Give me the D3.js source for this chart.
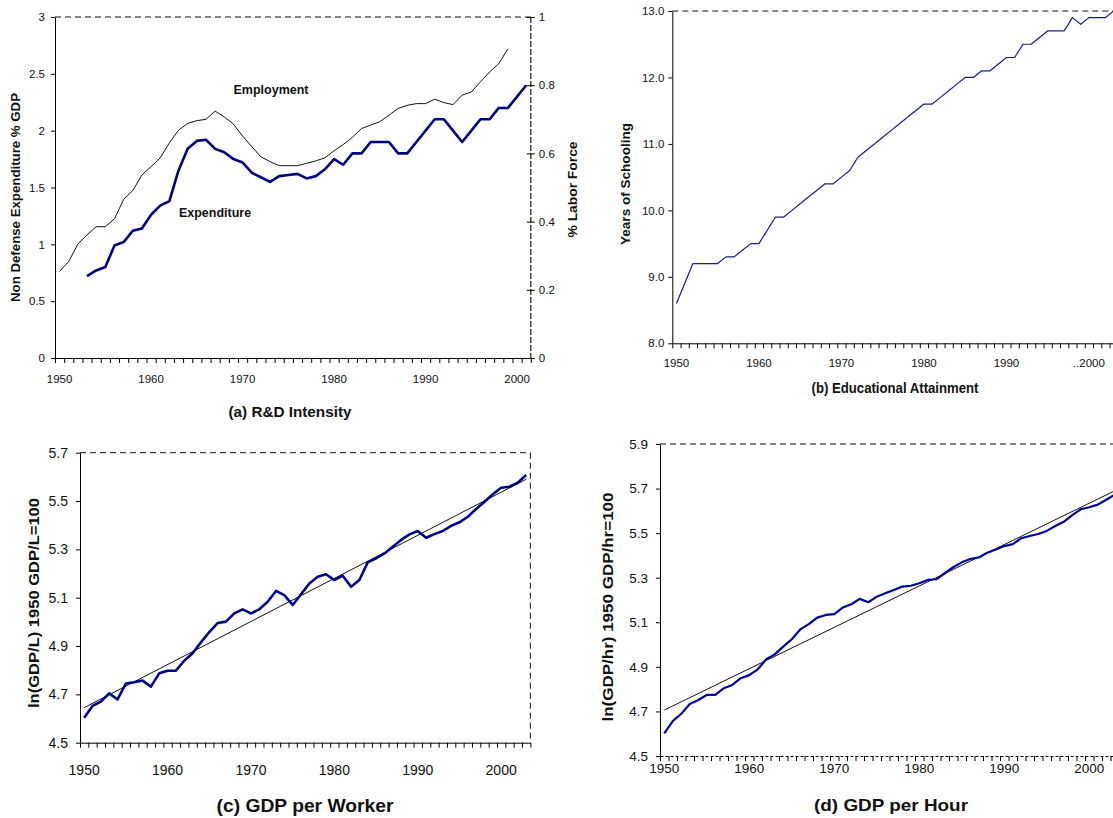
<!DOCTYPE html>
<html>
<head>
<meta charset="utf-8">
<script src="https://cdn.jsdelivr.net/npm/d3@7"></script>
<style>
  body { margin: 0; background: #fff; }
  svg { display: block; }
  text { font-family: "Liberation Sans", Arial, sans-serif; fill: #111; }
</style>
</head>
<body>
<svg id="fig" width="1113" height="818"></svg>
<script>
// ---- data ----
var decades = [1950, 1960, 1970, 1980, 1990, 2000];
var decadeLabels = ["1950", "1960", "1970", "1980", "1990", "2000"];
var decadeLabelsB = ["1950", "1960", "1970", "1980", "1990", "..2000"];

// (a) R&D intensity
var employmentStart = 1950;   // % labor force, right axis
var employment = [0.254, 0.283, 0.334, 0.361, 0.385, 0.385, 0.408, 0.465, 0.491, 0.537,
  0.561, 0.587, 0.631, 0.668, 0.688, 0.696, 0.700, 0.724, 0.707, 0.686,
  0.651, 0.620, 0.590, 0.576, 0.564, 0.564, 0.564, 0.571, 0.578, 0.587,
  0.608, 0.626, 0.647, 0.673, 0.683, 0.693, 0.712, 0.732, 0.741, 0.746,
  0.746, 0.759, 0.749, 0.743, 0.771, 0.780, 0.810, 0.839, 0.863, 0.907];
var expenditureStart = 1953;  // % GDP, left axis
var expenditure = [0.72, 0.77, 0.80, 0.99, 1.02, 1.12, 1.14,
  1.26, 1.34, 1.38, 1.65, 1.84, 1.91, 1.92, 1.84, 1.81, 1.75,
  1.72, 1.63, 1.59, 1.55, 1.60, 1.61, 1.62, 1.58, 1.60, 1.66,
  1.75, 1.70, 1.80, 1.80, 1.90, 1.90, 1.90, 1.80, 1.80, 1.90,
  2.00, 2.10, 2.10, 2.00, 1.90, 2.00, 2.10, 2.10, 2.20, 2.20,
  2.30, 2.40];
var ticksAL = [0, 0.5, 1, 1.5, 2, 2.5, 3];
var ticksAR = [0, 0.2, 0.4, 0.6, 0.8, 1];

// (b) educational attainment, 1950-2003
var schooling = [8.6, 8.9, 9.2, 9.2, 9.2, 9.2, 9.3, 9.3, 9.4, 9.5,
  9.5, 9.7, 9.9, 9.9, 10.0, 10.1, 10.2, 10.3, 10.4, 10.4,
  10.5, 10.6, 10.8, 10.9, 11.0, 11.1, 11.2, 11.3, 11.4, 11.5,
  11.6, 11.6, 11.7, 11.8, 11.9, 12.0, 12.0, 12.1, 12.1, 12.2,
  12.3, 12.3, 12.5, 12.5, 12.6, 12.7, 12.7, 12.7, 12.9, 12.8,
  12.9, 12.9, 12.9, 13.0];
var ticksB = [8, 9, 10, 11, 12, 13];

// (c) GDP per worker, 1950-2003
var gdpWorker = [4.603, 4.652, 4.670, 4.704, 4.679, 4.745, 4.750, 4.757, 4.732, 4.787,
  4.798, 4.798, 4.839, 4.870, 4.915, 4.958, 4.995, 5.001, 5.035, 5.052,
  5.035, 5.052, 5.083, 5.128, 5.111, 5.070, 5.114, 5.159, 5.187, 5.197,
  5.173, 5.191, 5.145, 5.173, 5.246, 5.263, 5.283, 5.311, 5.339, 5.362,
  5.376, 5.348, 5.363, 5.376, 5.397, 5.412, 5.435, 5.467, 5.497, 5.528,
  5.555, 5.559, 5.576, 5.608];
var trendWorker = [[1950, 4.645], [2003, 5.59]];
var ticksC = [4.5, 4.7, 4.9, 5.1, 5.3, 5.5, 5.7];

// (d) GDP per hour, 1950-2003
var gdpHour = [4.602, 4.657, 4.689, 4.733, 4.751, 4.774, 4.774, 4.804, 4.819, 4.849,
  4.863, 4.889, 4.934, 4.956, 4.991, 5.024, 5.068, 5.092, 5.121, 5.133,
  5.137, 5.166, 5.181, 5.205, 5.190, 5.215, 5.230, 5.245, 5.260, 5.264,
  5.275, 5.290, 5.293, 5.320, 5.347, 5.369, 5.384, 5.391, 5.412, 5.427,
  5.442, 5.451, 5.477, 5.487, 5.496, 5.510, 5.532, 5.551, 5.581, 5.607,
  5.616, 5.628, 5.650, 5.672];
var trendHour = [[1950, 4.706], [2003, 5.69]];
var ticksD = [4.5, 4.7, 4.9, 5.1, 5.3, 5.5, 5.7, 5.9];

var svg = d3.select("#fig");

function series(start, vals) {
  return vals.map(function (v, i) { return { year: start + i, v: v }; });
}

// category axis like Excel: ticks between years, labels on year centres
function catScale(left, cw, n) {
  return d3.scaleLinear().domain([1949.5, 1949.5 + n]).range([left, left + n * cw]);
}

function bottomAxis(x, y0, n, labels, fs, base, dashed) {
  var edges = d3.range(n + 1).map(function (i) { return 1949.5 + i; });
  var g = svg.append("g")
    .attr("transform", "translate(0," + y0 + ")")
    .call(d3.axisBottom(x).tickValues(edges).tickSize(5).tickSizeOuter(0).tickFormat(""));
  if (dashed) g.select(".domain").attr("stroke-dasharray", "3,2");
  svg.append("g").selectAll("text")
    .data(decades)
    .enter().append("text")
    .attr("x", function (d) { return x(d); })
    .attr("y", base)
    .attr("text-anchor", "middle")
    .style("font-size", fs + "px")
    .text(function (d, i) { return labels[i]; });
}

function leftAxis(y, x0, ticks, fmt, fs, pad) {
  var g = svg.append("g")
    .attr("transform", "translate(" + x0 + ",0)")
    .call(d3.axisLeft(y).tickValues(ticks).tickSize(4).tickSizeOuter(0).tickPadding(pad).tickFormat(fmt));
  g.selectAll("text").attr("font-family", null).style("font-size", fs + "px").attr("fill", "#111");
  return g;
}

function topDash(x1, x2, yy) {
  svg.append("line")
    .attr("x1", x1).attr("x2", x2).attr("y1", yy).attr("y2", yy)
    .attr("stroke", "#111").attr("stroke-dasharray", "6,4");
}

function vLabel(txt, cx, cy, len, fs) {
  svg.append("text")
    .attr("transform", "translate(" + cx + "," + cy + ") rotate(-90)")
    .attr("text-anchor", "middle")
    .attr("dominant-baseline", "central")
    .attr("textLength", len)
    .attr("lengthAdjust", "spacingAndGlyphs")
    .style("font-size", fs + "px")
    .style("font-weight", "bold")
    .text(txt);
}

function title(txt, cx, base, len, fs) {
  svg.append("text")
    .attr("x", cx).attr("y", base)
    .attr("text-anchor", "middle")
    .attr("textLength", len)
    .attr("lengthAdjust", "spacingAndGlyphs")
    .style("font-size", fs + "px")
    .style("font-weight", "bold")
    .text(txt);
}

function drawLine(data, x, y, color, w) {
  svg.append("path")
    .datum(data)
    .attr("fill", "none")
    .attr("stroke", color)
    .attr("stroke-width", w)
    .attr("stroke-linejoin", "round")
    .attr("d", d3.line().x(function (d) { return x(d.year); }).y(function (d) { return y(d.v); }));
}

// ---------- (a) R&D Intensity ----------
var xa = catScale(55, 9.15, 52);
var yaL = d3.scaleLinear().domain([0, 3]).range([358, 17]);
var yaR = d3.scaleLinear().domain([0, 1]).range([358, 17]);
topDash(55, xa.range()[1], 17);
svg.append("line")
  .attr("x1", xa.range()[1]).attr("x2", xa.range()[1]).attr("y1", 17).attr("y2", 358)
  .attr("stroke", "#444").attr("stroke-width", 1.5).attr("stroke-dasharray", "6,2");
var gr = svg.append("g")
  .attr("transform", "translate(" + xa.range()[1] + ",0)")
  .call(d3.axisRight(yaR).tickValues(ticksAR).tickSize(4).tickSizeOuter(0).tickPadding(4).tickFormat(d3.format("")));
gr.select(".domain").remove();
gr.selectAll(".tick line").attr("x1", -4);
gr.selectAll("text").attr("font-family", null).style("font-size", "11.5px").attr("fill", "#111");
leftAxis(yaL, 55, ticksAL, d3.format(""), 11.5, 6);
bottomAxis(xa, 358, 52, decadeLabels, 11.5, 383, false);
drawLine(series(employmentStart, employment), xa, yaR, "#111", 1);
drawLine(series(expenditureStart, expenditure), xa, yaL, "#000080", 2.6);
svg.append("text").attr("x", 271).attr("y", 94).attr("text-anchor", "middle")
  .style("font-size", "12.5px").style("font-weight", "bold").text("Employment");
svg.append("text").attr("x", 215).attr("y", 216.5).attr("text-anchor", "middle")
  .style("font-size", "12.5px").style("font-weight", "bold").text("Expenditure");
vLabel("Non Defense Expenditure % GDP", 16, 197.5, 209, 12);
vLabel("% Labor Force", 572.5, 189.5, 96, 12);
title("(a) R&D Intensity", 290, 417, 123, 15.5);

// ---------- (b) Educational Attainment ----------
var xb = catScale(672.3, 8.25, 54);
var yb = d3.scaleLinear().domain([8, 13]).range([343.3, 11]);
topDash(672.3, 1113, 11);
leftAxis(yb, 672.3, ticksB, d3.format(".1f"), 11.5, 4);
bottomAxis(xb, 343.3, 54, decadeLabelsB, 11.5, 366.5, false);
drawLine(series(1950, schooling), xb, yb, "#1c1c8c", 1.2);
vLabel("Years of Schooling", 626, 184, 122, 12);
title("(b) Educational Attainment", 895, 393, 167, 14);

// ---------- (c) GDP per Worker ----------
var xc = catScale(80, 8.34, 54);
var yc = d3.scaleLinear().domain([4.5, 5.7]).range([742.7, 452.7]);
topDash(80, xc.range()[1], 452.7);
svg.append("line")
  .attr("x1", xc.range()[1]).attr("x2", xc.range()[1]).attr("y1", 452.7).attr("y2", 742.7)
  .attr("stroke", "#111").attr("stroke-dasharray", "6,4");
leftAxis(yc, 80, ticksC, d3.format(".1f"), 14, 8);
bottomAxis(xc, 742.7, 54, decadeLabels, 14, 775, false);
drawLine(trendWorker.map(function (d) { return { year: d[0], v: d[1] }; }), xc, yc, "#111", 1);
drawLine(series(1950, gdpWorker), xc, yc, "#00008b", 2.6);
vLabel("ln(GDP/L) 1950 GDP/L=100", 33, 603, 210, 15);
title("(c) GDP per Worker", 305, 811.5, 177, 18);

// ---------- (d) GDP per Hour ----------
var xd = catScale(660, 8.5, 54);
var yd = d3.scaleLinear().domain([4.5, 5.9]).range([756, 444]);
topDash(660, 1113, 444);
leftAxis(yd, 660, ticksD, d3.format(".1f"), 13.5, 8);
bottomAxis(xd, 756, 54, decadeLabels, 13.5, 772.5, true);
drawLine(trendHour.map(function (d) { return { year: d[0], v: d[1] }; }), xd, yd, "#111", 1);
drawLine(series(1950, gdpHour), xd, yd, "#0000a0", 2.2);
vLabel("ln(GDP/hr) 1950 GDP/hr=100", 607, 607, 229, 15);
title("(d) GDP per Hour", 891, 811, 154, 16.5);
</script>
</body>
</html>
